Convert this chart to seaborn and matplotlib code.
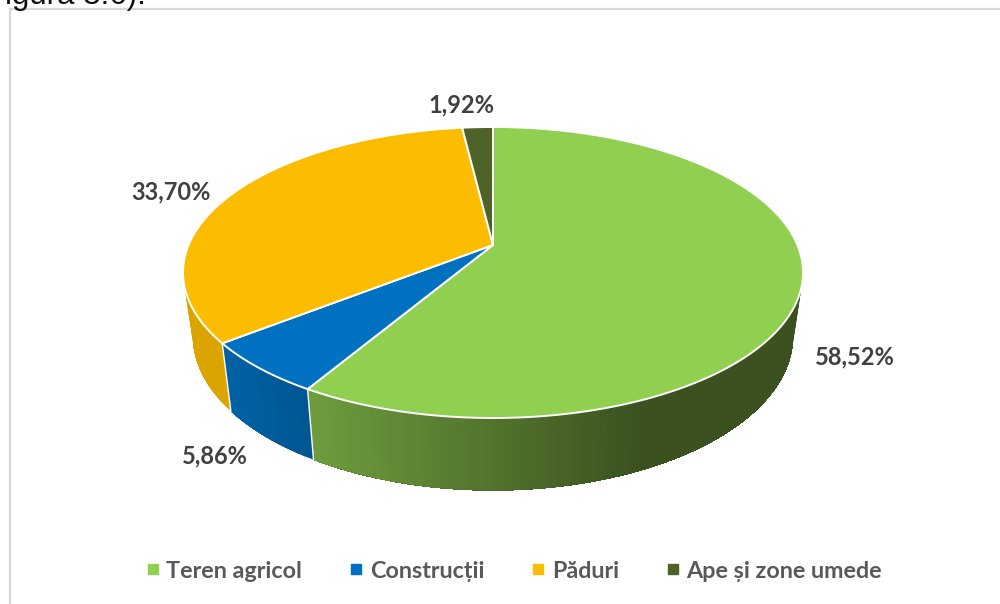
import numpy as np
import matplotlib
matplotlib.use("Agg")
import matplotlib.pyplot as plt
from matplotlib.patches import Polygon
from matplotlib.lines import Line2D
import seaborn as sns

# data
categories = ["Teren agricol", "Construcții", "Păduri", "Ape și zone umede"]
shares = [58.52, 5.86, 33.70, 1.92]
value_labels = ["58,52%", "5,86%", "33,70%", "1,92%"]
top_colors = ["#90CF50", "#0070C0", "#FCBC00", "#4F6228"]

sns.set_theme(style="white")
plt.rcParams["font.family"] = ["Lato", "DejaVu Sans"]
palette = sns.color_palette(top_colors)

W, H = 1000, 604
fig = plt.figure(figsize=(W / 100, H / 100), dpi=100)
ax = fig.add_axes([0, 0, 1, 1])
ax.set_xlim(0, W)
ax.set_ylim(H, 0)
ax.axis("off")

# perspective projection of the pie disc
CX, CY, A, B, K = 493.0, 245.0, 304.4, 140.3, 0.189
X_SHRINK, Y_STRETCH, DEPTH = 0.968, 1.06, 62.0


def project_top(t):
    x, y = np.sin(t), np.cos(t)
    w = 1 + K * y
    return CX + A * x / w, CY - B * y / w


def project_bottom(t):
    X, Y = project_top(t)
    return CX + (X - CX) * X_SHRINK, CY + (Y - CY) * Y_STRETCH + DEPTH


def side_color(i, x):
    base = np.array(palette[i])
    if i == 0:
        f = np.clip((x - 313) / (640 - 313), 0, 1)
        return (1 - f) * np.array([0.43, 0.61, 0.24]) + f * np.array([0.231, 0.322, 0.125])
    if i == 1:
        f = np.clip((x - 229) / 84, 0, 1)
        return (1 - f) * np.array([0.0, 0.385, 0.64]) + f * np.array([0.0, 0.33, 0.56])
    return base * 0.87


fractions = np.array(shares) / np.sum(shares)
edges = np.concatenate([[0], np.cumsum(fractions)]) * 2 * np.pi

# side walls: painted from the far end of each slice, every band reaching
# to the slice's end, so no seams show between the gradient bands
for i in range(len(shares)):
    n = max(8, int(fractions[i] * 260))
    ts = np.linspace(edges[i], edges[i + 1], n)
    xt, yt = project_top(ts)
    xb, yb = project_bottom(ts)
    for j in range(n - 1):
        xs = np.r_[xt[j:], xb[j:][::-1]]
        ys = np.r_[yt[j:], yb[j:][::-1]]
        col = side_color(i, 0.5 * (xt[j] + xt[j + 1]))
        ax.add_patch(Polygon(np.column_stack([xs, ys]), closed=True, facecolor=col,
                             edgecolor="none", linewidth=0, zorder=2 + i * 0.01))

# white separators on the visible wall
for e in edges[1:-1]:
    if np.cos(e) < 0:
        xt, yt = project_top(e)
        xb, yb = project_bottom(e)
        ax.plot([xt, xb], [yt, yb], color="white", lw=1.0, zorder=3)

# top faces
for i in range(len(shares)):
    ts = np.linspace(edges[i], edges[i + 1], 200)
    xt, yt = project_top(ts)
    pts = np.column_stack([np.r_[CX, xt], np.r_[CY, yt]])
    ax.add_patch(Polygon(pts, closed=True, facecolor=palette[i], edgecolor="white",
                         linewidth=1.4, joinstyle="round", zorder=4))

# data labels
label_pos = [(855, 357), (215, 456), (171, 192), (461, 105)]
for txt, (lx, ly) in zip(value_labels, label_pos):
    ax.text(lx, ly, txt, ha="center", va="center", fontsize=17, fontweight="bold",
            color="#404040", zorder=6)

# legend
handles = [Line2D([], [], linestyle="none", marker="s", markersize=7, color=palette[i]) for i in range(4)]
leg = ax.legend(handles, categories, ncol=4, loc="center", bbox_to_anchor=(514 / W, 1 - 571 / H),
                frameon=False, handlelength=0.6, handletextpad=0.27, columnspacing=2.03,
                prop={"size": 16.8, "weight": "bold"})
for t in leg.get_texts():
    t.set_color("#595959")

# chart frame and cropped body text above it
ax.plot([9.5, 9.5], [H, 8.7], color="#D9D9D9", lw=1.6, zorder=1)
ax.plot([9.5, W], [8.7, 8.7], color="#D9D9D9", lw=1.6, zorder=1)
ax.text(5, 4, "igura 3.6).", family="Liberation Sans", fontsize=22.5, color="#111111",
        ha="left", va="baseline", zorder=1)

fig.savefig("out.png", dpi=100, facecolor="white")
